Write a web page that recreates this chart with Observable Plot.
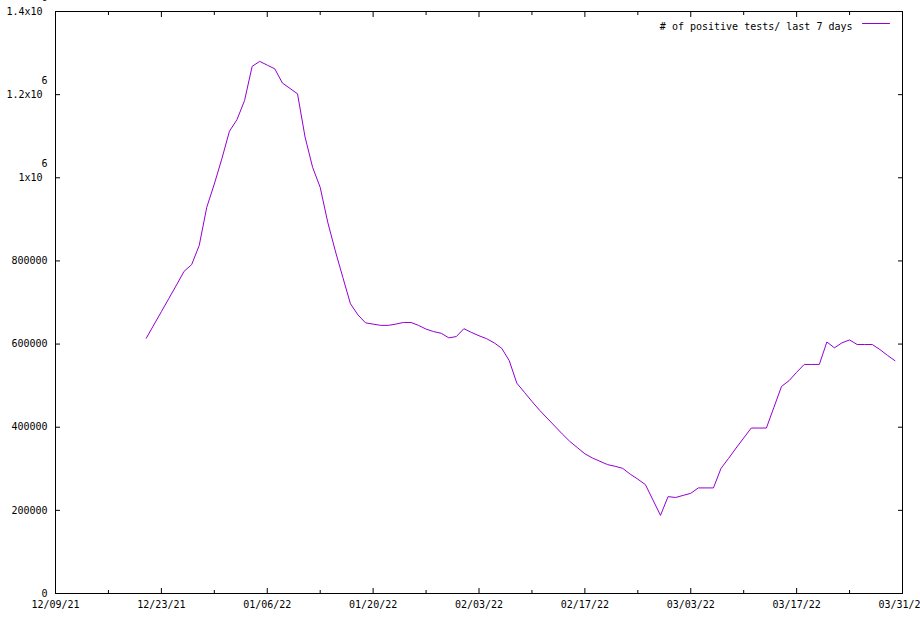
<!DOCTYPE html>
<html><head><meta charset="utf-8">
<script src="https://cdn.jsdelivr.net/npm/d3@7"></script>
<script src="https://cdn.jsdelivr.net/npm/@observablehq/plot@0.6"></script>
<style>body{margin:0;background:#fff}</style>
</head><body><div id="chart"></div>
<script>
// ---- data ----
const seriesLabel = "# of positive tests/ last 7 days";
const startDate = "2021-12-21"; // first daily value
const positives7d = [
  614000, 646000, 678000, 710000, 742000, 775000, 791000, 837000, 929000, 985000,
  1046000, 1112000, 1140000, 1186000, 1268000, 1280000, 1271000, 1262000, 1228000, 1215000,
  1202000, 1098000, 1025000, 977000, 893000, 824000, 760000, 697000, 670000, 651000,
  648000, 645000, 645000, 648000, 652000, 652000, 645000, 636000, 630000, 626000,
  615000, 618000, 637000, 628000, 620000, 613000, 603000, 590000, 560000, 506000,
  484000, 462000, 441000, 422000, 403000, 384000, 366000, 351000, 336000, 326000,
  318000, 310000, 306000, 301000, 287000, 275000, 262000, 225000, 188000, 233000,
  231000, 236000, 241000, 254000, 254000, 254000, 301000, 325000, 350000, 374000,
  398000, 398000, 398000, 448000, 498000, 512000, 532000, 551000, 551000, 551000,
  605000, 591000, 603000, 610000, 599000, 599000, 599000, 587000, 573000, 560000
];
const xDomain = ["2021-12-09", "2022-03-31"];
const majorTicks = ["2021-12-09","2021-12-23","2022-01-06","2022-01-20","2022-02-03","2022-02-17","2022-03-03","2022-03-17","2022-03-31"];
const minorTicks = ["2021-12-16","2021-12-30","2022-01-13","2022-01-27","2022-02-10","2022-02-24","2022-03-10","2022-03-24"];
const yDomain = [0, 1400000];
const yTicks = [0, 200000, 400000, 600000, 800000, 1000000, 1200000, 1400000];

// ---- build ----
const parse = d3.utcParse("%Y-%m-%d");
const start = parse(startDate);
const data = positives7d.map((v, i) => ({date: d3.utcDay.offset(start, i), value: v}));
const major = majorTicks.map(parse);
const minor = minorTicks.map(parse);
const color = "#9400d3";
const fmtX = d3.utcFormat("%m/%d/%y");
const small = yTicks.filter(d => d < 1e6);
const big = yTicks.filter(d => d >= 1e6);
const lineShape = {draw(context, l) { context.moveTo(0, 0); context.lineTo(0, -l); }};

const chart = Plot.plot({
  width: 920,
  height: 620,
  marginLeft: 55,
  marginRight: 18,
  marginTop: 11,
  marginBottom: 27,
  style: {fontFamily: "'DejaVu Sans Mono', monospace", fontSize: "10px", color: "black", background: "white"},
  x: {type: "utc", domain: xDomain.map(parse)},
  y: {domain: yDomain},
  marks: [
    Plot.axisX(major, {anchor: "bottom", tickSize: -5, tickPadding: 12, tickFormat: fmtX, label: null}),
    Plot.axisX(minor, {anchor: "bottom", tickSize: -3, fill: "none", label: null}),
    Plot.axisX(major, {anchor: "top", tickSize: -5, fill: "none", label: null}),
    Plot.axisX(minor, {anchor: "top", tickSize: -3, fill: "none", label: null}),
    Plot.axisY(yTicks, {anchor: "left", tickSize: -5, fill: "none", label: null}),
    Plot.axisY(yTicks, {anchor: "right", tickSize: -5, fill: "none", label: null}),
    Plot.text(small, {y: d => d, text: d => String(d), frameAnchor: "left", textAnchor: "end", dx: -8}),
    Plot.text(big, {y: d => d, text: d => `${d / 1e6}x10`, frameAnchor: "left", textAnchor: "end", dx: -13}),
    Plot.text(big, {y: d => d, text: () => "6", frameAnchor: "left", textAnchor: "end", dx: -8, dy: -13.5}),
    Plot.line(data, {x: "date", y: "value", stroke: color, strokeWidth: 1}),
    Plot.frame({stroke: "black"}),
    Plot.text([seriesLabel], {text: d => d, frameAnchor: "top-right", textAnchor: "end", dx: -50, dy: 11}),
    Plot.vector([seriesLabel], {frameAnchor: "top-right", dx: -13, dy: 12, length: 27, rotate: -90, anchor: "start", shape: lineShape, stroke: color, strokeWidth: 1})
  ]
});
document.getElementById("chart").append(chart);
</script>
</body></html>
